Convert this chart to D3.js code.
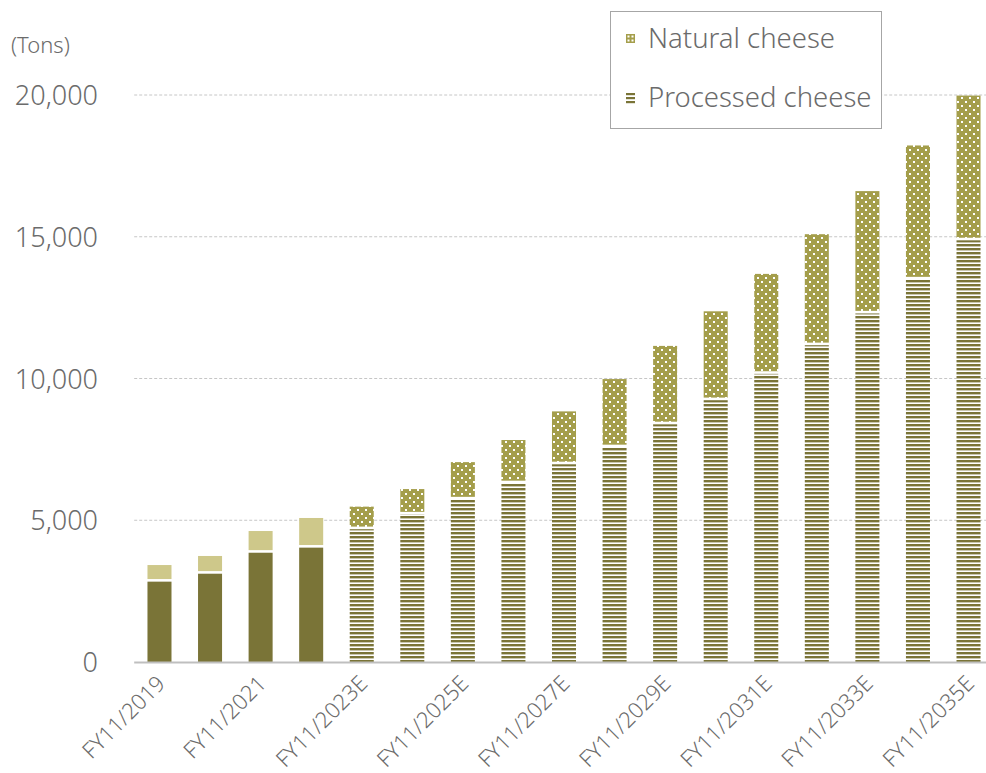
<!DOCTYPE html>
<html>
<head>
<meta charset="utf-8">
<script src="https://cdn.jsdelivr.net/npm/d3@7"></script>
<style>
  html, body { margin: 0; padding: 0; background: #fff; }
  svg { display: block; }
  text { font-family: "Noto Sans", "DejaVu Sans", sans-serif; font-weight: 300; fill: #6b6b6b; }
</style>
</head>
<body>
<svg id="chart" width="986" height="773"></svg>
<script>
// Cheese volume by fiscal year (tons); "E" marks forecast years
const years = [
  "FY11/2019", "FY11/2020", "FY11/2021", "FY11/2022", "FY11/2023E",
  "FY11/2024E", "FY11/2025E", "FY11/2026E", "FY11/2027E", "FY11/2028E",
  "FY11/2029E", "FY11/2030E", "FY11/2031E", "FY11/2032E", "FY11/2033E",
  "FY11/2034E", "FY11/2035E"
];
const processedCheese = [
  2880, 3160, 3900, 4080, 4730, 5250, 5780, 6350, 7020, 7620,
  8430, 9280, 10210, 11220, 12340, 13540, 14920
];
const naturalCheese = [
  540, 580, 720, 1000, 750, 850, 1270, 1480, 1820, 2360,
  2720, 3090, 3480, 3870, 4270, 4680, 5060
];
const yTicks = [0, 5000, 10000, 15000, 20000];
const labelledYears = years.filter((d, i) => i % 2 === 0);

const W = 986, H = 773;
const plot = { left: 134.2, right: 993.8, top: 95, bottom: 662 };

const colors = {
  actualProcessed: "#7a7437",
  actualNatural: "#cec88a",
  dotsBg: "#a49e4b",
  stripe: "#7a7437",
  grid: "#c6c6c6",
  axis: "#bfbfbf"
};

const svg = d3.select("#chart");
const defs = svg.append("defs");

// dotted fill for forecast natural cheese
const dots = defs.append("pattern")
  .attr("id", "dots").attr("patternUnits", "userSpaceOnUse")
  .attr("width", 8).attr("height", 8);
dots.append("rect").attr("width", 8).attr("height", 8).attr("fill", colors.dotsBg);
dots.append("rect").attr("x", 1).attr("y", 1).attr("width", 2).attr("height", 2).attr("fill", "#fff");
dots.append("rect").attr("x", 5).attr("y", 5).attr("width", 2).attr("height", 2).attr("fill", "#fff");

// horizontal stripes for forecast processed cheese
const stripes = defs.append("pattern")
  .attr("id", "stripes").attr("patternUnits", "userSpaceOnUse")
  .attr("width", 8).attr("height", 4);
stripes.append("rect").attr("width", 8).attr("height", 4).attr("fill", "#fff");
stripes.append("rect").attr("y", 0).attr("width", 8).attr("height", 2.4).attr("fill", colors.stripe);

const x = d3.scaleBand()
  .domain(years)
  .range([plot.left, plot.right])
  .paddingInner(0.525)
  .paddingOuter(0.2625);

const y = d3.scaleLinear()
  .domain([0, 20000])
  .range([plot.bottom, plot.top]);

// gridlines
svg.append("g")
  .selectAll("line")
  .data(yTicks.filter(d => d > 0))
  .join("line")
  .attr("x1", plot.left).attr("x2", W)
  .attr("y1", d => y(d)).attr("y2", d => y(d))
  .attr("stroke", colors.grid)
  .attr("stroke-width", 1)
  .attr("stroke-dasharray", "3,2");

// y-axis labels
const yAxis = d3.axisLeft(y)
  .tickValues(yTicks)
  .tickFormat(d3.format(","))
  .tickSize(0)
  .tickPadding(0);
const yAxisG = svg.append("g")
  .attr("transform", "translate(98,0)")
  .call(yAxis);
yAxisG.select(".domain").remove();
yAxisG.selectAll("text")
  .attr("font-family", "\"Noto Sans\", sans-serif")
  .attr("font-weight", 300)
  .attr("font-size", 27)
  .attr("fill", "#6b6b6b")
  .attr("dy", "0.36em");

svg.append("text")
  .attr("x", 11).attr("y", 53)
  .attr("font-size", 22)
  .text("(Tons)");

// stacked bars
const rows = years.map((yr, i) => ({
  year: yr,
  forecast: yr.endsWith("E"),
  processed: processedCheese[i],
  natural: naturalCheese[i]
}));
const gap = 1.3;
const bars = svg.append("g");

bars.selectAll("rect.processed")
  .data(rows)
  .join("rect")
  .attr("class", "processed")
  .attr("x", d => x(d.year))
  .attr("width", x.bandwidth())
  .attr("y", d => y(d.processed) + gap)
  .attr("height", d => y(0) - y(d.processed) - gap)
  .attr("fill", d => d.forecast ? "url(#stripes)" : colors.actualProcessed);

bars.selectAll("rect.natural")
  .data(rows)
  .join("rect")
  .attr("class", "natural")
  .attr("x", d => x(d.year))
  .attr("width", x.bandwidth())
  .attr("y", d => y(d.processed + d.natural))
  .attr("height", d => y(d.processed) - y(d.processed + d.natural) - gap)
  .attr("fill", d => d.forecast ? "url(#dots)" : colors.actualNatural);

// baseline
svg.append("line")
  .attr("x1", plot.left).attr("x2", W)
  .attr("y1", y(0) + 0.5).attr("y2", y(0) + 0.5)
  .attr("stroke", colors.axis).attr("stroke-width", 2);

// x labels (every other year), rotated
svg.append("g")
  .selectAll("text")
  .data(labelledYears)
  .join("text")
  .attr("transform", d => `translate(${x(d) + x.bandwidth() / 2 + 7},685) rotate(-45)`)
  .attr("text-anchor", "end")
  .attr("font-size", 22)
  .text(d => d);

// legend
const legend = svg.append("g");
legend.append("rect")
  .attr("x", 610.5).attr("y", 11.5)
  .attr("width", 271).attr("height", 117)
  .attr("fill", "#fff")
  .attr("stroke", "#a6a6a6").attr("stroke-width", 1);

// natural cheese key: olive square with white dots
const natKey = legend.append("g").attr("transform", "translate(626,34)");
natKey.append("rect").attr("width", 9).attr("height", 9).attr("fill", colors.dotsBg);
[[1.5, 1.5], [5.5, 1.5], [1.5, 5.5], [5.5, 5.5]].forEach(([dx, dy]) =>
  natKey.append("rect").attr("x", dx).attr("y", dy)
    .attr("width", 2).attr("height", 2).attr("fill", "#fff"));

// processed cheese key: three stacked lines
const procKey = legend.append("g").attr("transform", "translate(626,93)");
[0, 4, 8].forEach(dy =>
  procKey.append("rect").attr("y", dy)
    .attr("width", 9).attr("height", 2.2).attr("fill", colors.stripe));

legend.append("text").attr("x", 648).attr("y", 48)
  .attr("font-size", 27.5).text("Natural cheese");
legend.append("text").attr("x", 648).attr("y", 107)
  .attr("font-size", 27.5).text("Processed cheese");
</script>
</body>
</html>
